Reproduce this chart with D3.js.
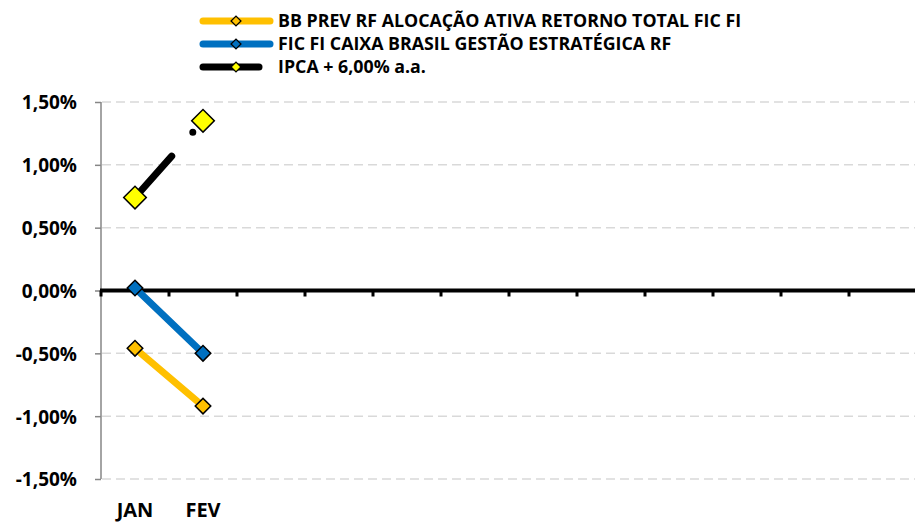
<!DOCTYPE html>
<html><head><meta charset="utf-8">
<script src="https://cdn.jsdelivr.net/npm/d3@7"></script>
<style>
body{margin:0;background:#fff;}
svg{display:block;font-family:"Open Sans","Noto Sans",sans-serif;font-weight:bold;}
</style></head>
<body><svg id="c" width="915" height="523"></svg>
<script>
const months = ["JAN","FEV","MAR","ABR","MAI","JUN","JUL","AGO","SET","OUT","NOV","DEZ"];
const monthLabels = ["JAN","FEV","","","","","","","","","",""];
const seriesNames = ["BB PREV RF ALOCAÇÃO ATIVA RETORNO TOTAL FIC FI","FIC FI CAIXA BRASIL GESTÃO ESTRATÉGICA RF","IPCA + 6,00% a.a."];
const bbValues = [-0.46, -0.92];
const caixaValues = [0.02, -0.50];
const ipcaValues = [0.74, 1.35];
const yTicks = [-1.5, -1.0, -0.5, 0, 0.5, 1.0, 1.5];

const svg = d3.select("#c");
const x = d3.scaleBand().domain(months).range([101, 917]);
const y = d3.scaleLinear().domain([-1.5, 1.5]).range([479, 102]);
const fmt = v => d3.format(".2f")(v).replace("−", "-").replace(".", ",") + "%";

// gridlines
svg.append("g").selectAll("line").data(yTicks.filter(v => v !== 0)).join("line")
  .attr("x1", 102).attr("x2", 915).attr("y1", d => y(d)).attr("y2", d => y(d))
  .attr("stroke", "#d9d9d9").attr("stroke-width", 1.5).attr("stroke-dasharray", "9,5");

// y axis
const yAxis = svg.append("g").attr("transform", "translate(101,0)")
  .call(d3.axisLeft(y).tickValues(yTicks).tickSize(6).tickPadding(18).tickFormat(fmt));
yAxis.select(".domain").attr("stroke", "#868686").attr("stroke-width", 1.5).attr("d", `M0,${y(1.5)}V${y(-1.5)}`);
yAxis.selectAll(".tick line").attr("stroke", "#868686").attr("stroke-width", 1.5);
yAxis.selectAll(".tick text").attr("fill", "#000").attr("dy", "0.36em").style("font-size", "19px").style("font-family", "'Open Sans',sans-serif").style("font-weight", "bold");

// zero line axis with ticks at band boundaries
const xAxis = svg.append("g").attr("transform", `translate(0,${y(0)})`);
xAxis.append("line").attr("x1", 100).attr("x2", 915).attr("y1", 0).attr("y2", 0)
  .attr("stroke", "#000").attr("stroke-width", 4);
xAxis.selectAll("line.t").data(months).join("line").attr("class", "t")
  .attr("x1", d => x(d)).attr("x2", d => x(d)).attr("y1", 0).attr("y2", 6)
  .attr("stroke", "#000").attr("stroke-width", 3);

// category labels
svg.append("g").selectAll("text").data(months).join("text")
  .attr("x", d => x(d) + x.bandwidth() / 2).attr("y", 517)
  .attr("text-anchor", "middle").style("font-size", "20px")
  .text((d, i) => monthLabels[i]);

const line = d3.line().x((d, i) => x(months[i]) + x.bandwidth() / 2).y(d => y(d));
function diamond(g, data, size, fill) {
  g.selectAll("path.m").data(data).join("path").attr("class", "m")
    .attr("d", d3.symbol(d3.symbolSquare, size * size))
    .attr("transform", (d, i) => `translate(${x(months[i]) + x.bandwidth() / 2},${y(d)}) rotate(45)`)
    .attr("fill", fill).attr("stroke", "#000").attr("stroke-width", 1.5);
}

// BB
const gBB = svg.append("g");
gBB.append("path").datum(bbValues).attr("d", line).attr("fill", "none")
  .attr("stroke", "#ffc000").attr("stroke-width", 7).attr("stroke-linecap", "round");
diamond(gBB, bbValues, 11, "#ffc000");

// Caixa
const gCX = svg.append("g");
gCX.append("path").datum(caixaValues).attr("d", line).attr("fill", "none")
  .attr("stroke", "#0070c0").attr("stroke-width", 7).attr("stroke-linecap", "round");
diamond(gCX, caixaValues, 11, "#0070c0");

// IPCA (broken rendering as in reference)
const gIP = svg.append("g");
const ip = gIP.append("path").datum(ipcaValues).attr("d", line).attr("fill", "none")
  .attr("stroke", "#000").attr("stroke-width", 7).attr("stroke-linecap", "round");
const L = ip.node().getTotalLength();
ip.attr("stroke-dasharray", `${0.54 * L},${0.31 * L},0,${L}`);
diamond(gIP, ipcaValues, 16, "#ffff00");

// legend
const legColors = ["#ffc000", "#0070c0", "#000"];
const legMarker = ["#ffc000", "#0070c0", "#ffff00"];
const legEnd = [270, 270, 259];
const leg = svg.append("g");
seriesNames.forEach((n, i) => {
  const yy = 21 + i * 23;
  leg.append("line").attr("x1", 203).attr("x2", legEnd[i]).attr("y1", yy).attr("y2", yy)
    .attr("stroke", legColors[i]).attr("stroke-width", 7).attr("stroke-linecap", "round");
  leg.append("path").attr("d", d3.symbol(d3.symbolSquare, 49))
    .attr("transform", `translate(236,${yy}) rotate(45)`)
    .attr("fill", legMarker[i]).attr("stroke", "#000").attr("stroke-width", 1.3);
  leg.append("text").attr("x", 278).attr("y", yy + 6).style("font-size", "17.8px").text(n);
});
</script></body></html>
